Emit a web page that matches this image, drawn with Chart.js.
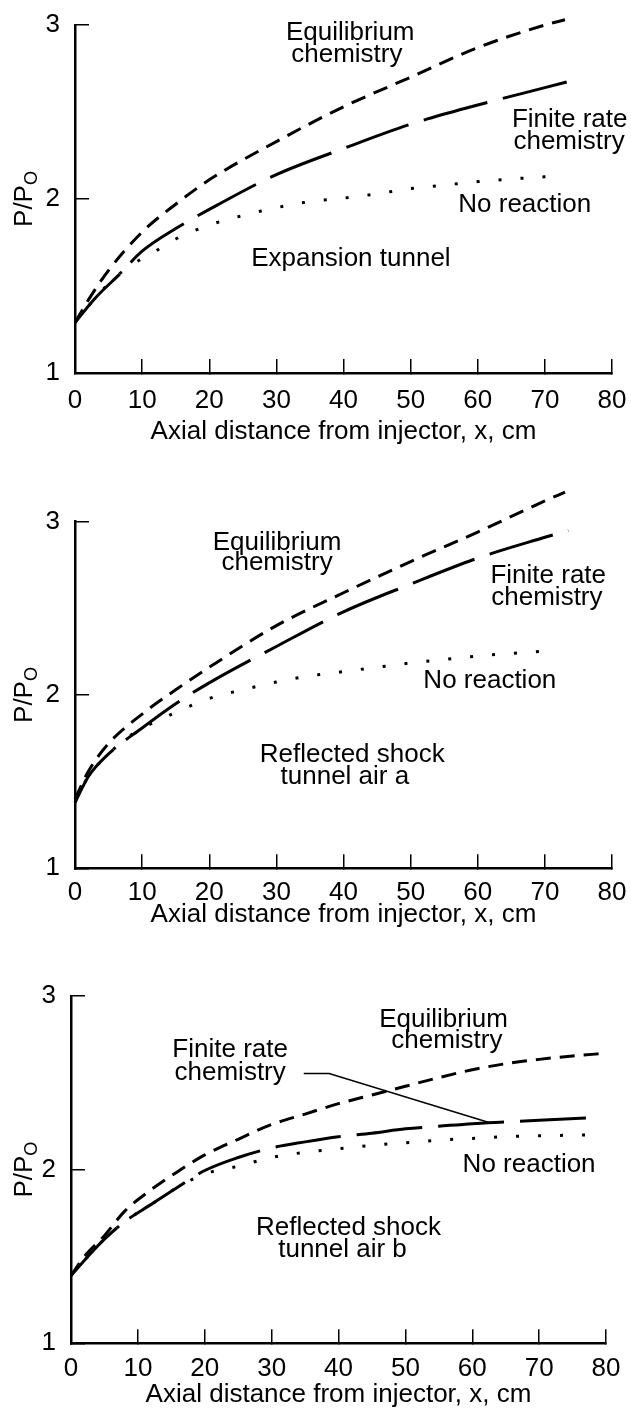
<!DOCTYPE html>
<html>
<head>
<meta charset="utf-8">
<script src="https://cdn.jsdelivr.net/npm/chart.js@4/dist/chart.umd.min.js"></script>
<style>
  body { margin: 0; background: #fff; }
  #wrap { position: relative; width: 631px; height: 1410px; }
  canvas { position: absolute; left: 0; }
</style>
</head>
<body>
<div id="wrap">
  <canvas id="c1" width="631" height="465" style="top:0px"></canvas>
  <canvas id="c2" width="631" height="475" style="top:465px"></canvas>
  <canvas id="c3" width="631" height="470" style="top:940px"></canvas>
</div>
<script>
// shared axes
const xTicks = [0, 10, 20, 30, 40, 50, 60, 70, 80];
const yTicks = [1, 2, 3];
const xTitle = "Axial distance from injector, x, cm";

// panel 1: expansion tunnel
const x1Eq = [0, 2, 5, 10, 15, 20, 30, 40, 50, 60, 70, 73];
const y1Eq = [1.29, 1.42, 1.59, 1.81, 1.97, 2.11, 2.33, 2.53, 2.70, 2.87, 3.00, 3.03];
const x1Fin = [0, 3, 6.7, 10, 15, 20, 30, 40, 50, 60, 70, 74];
const y1Fin = [1.29, 1.43, 1.57, 1.70, 1.83, 1.94, 2.14, 2.29, 2.43, 2.54, 2.64, 2.68];
const x1Nr = [0, 3, 6, 9, 12, 15, 20, 25, 30, 35, 40, 45, 50, 55, 60, 65, 71];
const y1Nr = [1.29, 1.43, 1.55, 1.635, 1.70, 1.77, 1.85, 1.905, 1.95, 1.985, 2.005, 2.03, 2.06, 2.08, 2.10, 2.115, 2.13];

// panel 2: reflected shock tunnel air a
const x2Eq = [0, 2, 5, 10, 15, 20, 30, 40, 50, 60, 70, 73];
const y2Eq = [1.40, 1.56, 1.72, 1.89, 2.03, 2.16, 2.40, 2.59, 2.77, 2.94, 3.12, 3.17];
const x2Fin = [0, 2, 5, 10, 15, 20, 30, 40, 50, 60, 70, 73.5];
const y2Fin = [1.38, 1.53, 1.66, 1.81, 1.95, 2.07, 2.28, 2.48, 2.64, 2.79, 2.91, 2.95];
const x2Nr = [0, 2, 5, 8, 10, 12, 15, 20, 25, 30, 35, 40, 45, 50, 55, 60, 65, 71];
const y2Nr = [1.38, 1.53, 1.66, 1.76, 1.81, 1.845, 1.90, 1.98, 2.03, 2.075, 2.11, 2.135, 2.16, 2.185, 2.205, 2.225, 2.24, 2.255];

// panel 3: reflected shock tunnel air b
const x3Eq = [0, 2, 5, 8, 12, 16, 20, 25, 30, 35, 40, 45, 50, 55, 60, 65, 70, 75, 80];
const y3Eq = [1.39, 1.50, 1.62, 1.76, 1.885, 1.99, 2.085, 2.175, 2.26, 2.32, 2.38, 2.43, 2.48, 2.53, 2.575, 2.61, 2.635, 2.655, 2.67];
const x3Fin = [0, 3, 5, 8, 12, 16, 20, 25, 30, 35, 40, 45, 50, 55, 60, 65, 70, 78];
const y3Fin = [1.39, 1.52, 1.60, 1.70, 1.80, 1.90, 1.995, 2.07, 2.125, 2.16, 2.19, 2.21, 2.235, 2.25, 2.265, 2.275, 2.285, 2.30];
const x3Nr = [0, 3, 5, 8, 12, 16, 20, 25, 30, 35, 40, 45, 50, 55, 60, 65, 70, 78];
const y3Nr = [1.39, 1.52, 1.60, 1.70, 1.80, 1.90, 1.975, 2.02, 2.07, 2.10, 2.12, 2.14, 2.155, 2.17, 2.18, 2.19, 2.195, 2.20];
// leader line from "Finite rate chemistry" label to its curve
const x3Lead = [34.8, 38.6, 62.5];
const y3Lead = [2.554, 2.554, 2.272];

const FONT = "'Liberation Sans', Arial, Helvetica, sans-serif";
Chart.defaults.font.family = FONT;
Chart.defaults.color = "#000";

const pts = (xs, ys) => xs.map((x, i) => ({ x: x, y: ys[i] }));

function curve(xs, ys, dash) {
    return {
        data: pts(xs, ys),
        borderColor: "#000",
        borderWidth: 3,
        borderDash: dash,
        pointRadius: 0,
        cubicInterpolationMode: "monotone",
        clip: false,
    };
}

// text notes placed in data units, plus the P/Po title with its subscript
const notes = {
    id: "notes",
    afterDraw(chart, args, opts) {
        const ctx = chart.ctx;
        const xs = chart.scales.x, ys = chart.scales.y;
        ctx.save();
        ctx.fillStyle = "#000";
        ctx.font = "26px " + FONT;
        ctx.textAlign = "center";
        ctx.textBaseline = "alphabetic";
        opts.items.forEach(n => {
            ctx.fillText(n.text, xs.getPixelForValue(n.x), ys.getPixelForValue(n.y));
        });
        // rotated y title: P/P with a small O lowered toward the axis
        const cy = ys.getPixelForValue(2);
        ctx.translate(opts.titleX, cy);
        ctx.rotate(-Math.PI / 2);
        ctx.textAlign = "left";
        const big = "26px " + FONT, small = "18px " + FONT;
        ctx.font = big;
        const w1 = ctx.measureText("P/P").width;
        ctx.font = small;
        const w2 = ctx.measureText("O").width;
        const x0 = -(w1 + w2) / 2;
        ctx.font = big;
        ctx.fillText("P/P", x0, 0);
        ctx.font = small;
        ctx.fillText("O", x0 + w1, 5);
        ctx.restore();
    }
};

function panel(id, p) {
    const datasets = [
        curve(p.eq[0], p.eq[1], [15, 9]),
        curve(p.fin[0], p.fin[1], [66, 16]),
        curve(p.nr[0], p.nr[1], [3, 19]),
    ];
    if (p.lead) {
        datasets.push({
            data: pts(p.lead[0], p.lead[1]),
            borderColor: "#000", borderWidth: 1.5, pointRadius: 0, tension: 0, clip: false,
        });
    }
    return new Chart(document.getElementById(id), {
        type: "line",
        data: { datasets: datasets },
        options: {
            responsive: false,
            animation: false,
            devicePixelRatio: 1,
            layout: { padding: { top: p.top, right: p.right, left: 0, bottom: 0 } },
            plugins: {
                legend: { display: false },
                tooltip: { enabled: false },
                notes: { items: p.notes, titleX: 32 },
            },
            scales: {
                x: {
                    type: "linear", min: 0, max: 80,
                    afterBuildTicks: s => { s.ticks = xTicks.map(v => ({ value: v })); },
                    ticks: { color: "#000", font: { size: 26 }, padding: p.xPad, maxRotation: 0 },
                    grid: { drawOnChartArea: false, tickLength: -14, color: "#000", lineWidth: 1.5 },
                    border: { color: "#000", width: 2.5 },
                    title: { display: true, text: xTitle, color: "#000", font: { size: 26 },
                             padding: { top: 0, bottom: p.titlePad } },
                    afterFit: s => { s.height = p.xh; s.paddingLeft = 0; s.paddingRight = 0; },
                },
                y: {
                    type: "linear", min: 1, max: 3,
                    afterBuildTicks: s => { s.ticks = yTicks.map(v => ({ value: v })); },
                    ticks: { color: "#000", font: { size: 26 }, padding: 29 },
                    grid: { drawOnChartArea: false, tickLength: -14, color: "#000", lineWidth: 1.5 },
                    border: { color: "#000", width: 2.5 },
                    afterFit: s => { s.width = p.left; s.paddingTop = 0; s.paddingBottom = 0; },
                },
            },
        },
        plugins: [notes],
    });
}

panel("c1", {
    eq: [x1Eq, y1Eq], fin: [x1Fin, y1Fin], nr: [x1Nr, y1Nr],
    top: 25, right: 19, left: 75, xh: 92, xPad: 26.4, titlePad: 18,
    notes: [
        { text: "Equilibrium", x: 41.0, y: 2.914 },
        { text: "chemistry", x: 40.5, y: 2.787 },
        { text: "Finite rate", x: 73.7, y: 2.412 },
        { text: "chemistry", x: 73.6, y: 2.29 },
        { text: "No reaction", x: 67.0, y: 1.923 },
        { text: "Expansion tunnel", x: 41.1, y: 1.616 },
    ],
});

panel("c2", {
    eq: [x2Eq, y2Eq], fin: [x2Fin, y2Fin], nr: [x2Nr, y2Nr],
    top: 56.7, right: 19, left: 75, xh: 71.7, xPad: 22.7, titlePad: 9.4,
    notes: [
        { text: "Equilibrium", x: 30.1, y: 2.837 },
        { text: "chemistry", x: 30.1, y: 2.721 },
        { text: "Finite rate", x: 70.5, y: 2.645 },
        { text: "chemistry", x: 70.3, y: 2.519 },
        { text: "No reaction", x: 61.8, y: 2.039 },
        { text: "Reflected shock", x: 41.3, y: 1.613 },
        { text: "tunnel air a", x: 40.2, y: 1.486 },
    ],
});

panel("c3", {
    eq: [x3Eq, y3Eq], fin: [x3Fin, y3Fin], nr: [x3Nr, y3Nr], lead: [x3Lead, y3Lead],
    top: 56, right: 25, left: 71, xh: 66.7, xPad: 24.1, titlePad: 0,
    notes: [
        { text: "Finite rate", x: 23.8, y: 2.646 },
        { text: "chemistry", x: 23.8, y: 2.519 },
        { text: "Equilibrium", x: 55.7, y: 2.819 },
        { text: "chemistry", x: 56.2, y: 2.698 },
        { text: "No reaction", x: 68.5, y: 1.988 },
        { text: "Reflected shock", x: 41.5, y: 1.625 },
        { text: "tunnel air b", x: 40.6, y: 1.498 },
    ],
});
</script>
</body>
</html>
